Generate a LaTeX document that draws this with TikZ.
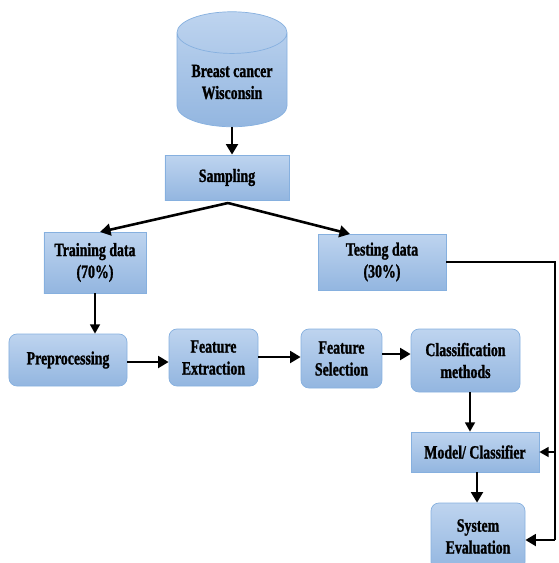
\documentclass[tikz,border=0pt]{standalone}
\usepackage{fontspec}
\setmainfont{Liberation Serif}[FakeStretch=0.74, BoldFeatures={FakeBold=1.2}]
\usepackage{xcolor}
\usepackage{tikz}
\usetikzlibrary{arrows.meta,positioning,shapes.geometric,calc}
\definecolor{boxtop}{HTML}{BED4EF}
\definecolor{boxbot}{HTML}{93B6E0}
\definecolor{boxline}{HTML}{86B0DF}
\tikzset{
  stagebox/.style={draw=boxline, top color=boxtop, bottom color=boxbot,
                   font=\fontsize{16}{18.7}\selectfont\bfseries, align=center,
                   inner sep=1pt, line width=0.6pt},
  roundbox/.style={stagebox, rounded corners=0.24cm},
  flowarrow/.style={-{Triangle[length=9pt,width=10pt]}, line width=2.2pt},
  thinarrow/.style={-{Triangle[length=8pt,width=8.5pt]}, line width=1.6pt}
}
\begin{document}
\begin{tikzpicture}[x=0.03cm, y=-0.03cm]
    \clip (0,0) rectangle (558,563);

    % Data source
    \node[stagebox, cylinder, shape border rotate=90, aspect=0.5,
          minimum width=3.3cm, minimum height=3.45cm] (DB) at (232,82)
          {Breast cancer\\Wisconsin};

    \node[stagebox, minimum width=3.72cm, minimum height=1.35cm] (SMP) at (227,177.5) {Sampling};
    \node[stagebox, minimum width=3.06cm, minimum height=1.83cm] (TRN) at (95,262.5) {Training data\\(70\%)};
    \node[stagebox, minimum width=3.84cm, minimum height=1.68cm] (TST) at (382,262) {Testing data\\(30\%)};

    % Pipeline row
    \node[roundbox, minimum width=3.54cm, minimum height=1.56cm] (PRE) at (68,360) {Preprocessing};
    \node[roundbox, minimum width=2.67cm, minimum height=1.71cm] (FEX) at (213.5,357.5) {Feature\\Extraction};
    \node[roundbox, minimum width=2.43cm, minimum height=1.77cm] (FSL) at (341.5,358.5) {Feature\\Selection};
    \node[roundbox, minimum width=3.27cm, minimum height=1.89cm] (CLM) at (465.5,360.5) {Classification\\methods};

    \node[stagebox, minimum width=3.84cm, minimum height=1.2cm] (MDL) at (475,452) {Model/ Classifier};
    \node[roundbox, minimum width=2.82cm, minimum height=2.01cm] (EVL) at (478,536.5) {System\\Evaluation};

    % Split
    \coordinate (split) at (228,203);
    \draw[flowarrow] (DB.bottom) -- (SMP.north -| DB.bottom);
    \draw[flowarrow] (split) -- (100,232);
    \draw[flowarrow] (split) -- (350,234);
    \draw[thinarrow] (TRN.south) -- (TRN.south |- PRE.north);

    % Row arrows
    \draw[flowarrow] (PRE.east |- 0,362) -- (FEX.west |- 0,362);
    \draw[flowarrow] (FEX.east |- 0,357) -- (FSL.west |- 0,357);
    \draw[flowarrow] (FSL.east |- 0,354) -- (CLM.west |- 0,354);
    \draw[thinarrow] (CLM.south -| 470,0) -- (MDL.north -| 470,0);
    \draw[flowarrow] (MDL.south -| 477,0) -- (EVL.north -| 477,0);

    % Testing data route
    \coordinate (rtop) at (555,262);
    \coordinate (rmid) at (555,452);
    \coordinate (rbot) at (555,540);
    \draw[line width=1.8pt] (TST.east) -- (rtop) -- (rbot);
    \draw[thinarrow] (rmid) -- (MDL.east);
    \draw[flowarrow] (rbot) -- (EVL.east |- rbot);
\end{tikzpicture}
\end{document}
